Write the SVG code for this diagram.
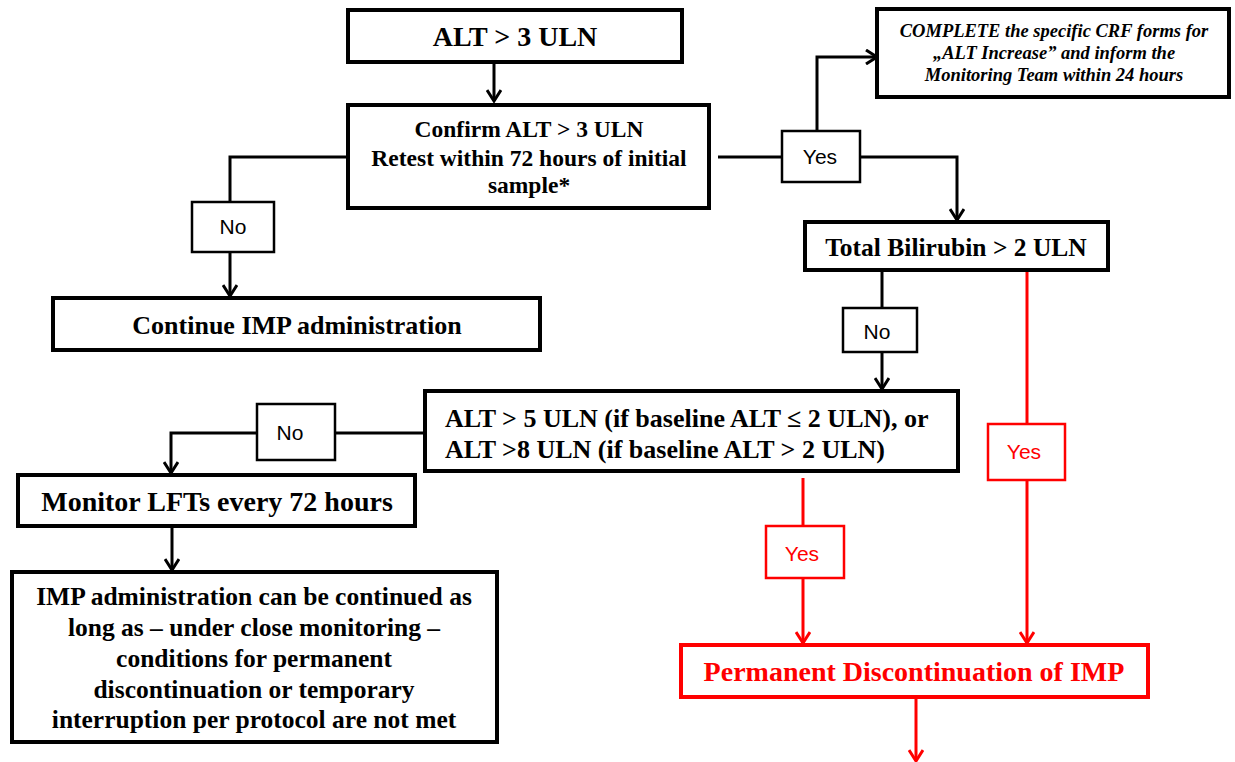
<svg xmlns="http://www.w3.org/2000/svg" width="1235" height="762" viewBox="0 0 1235 762">
  <defs>
    <style>
      .box { fill: #fff; stroke: #000; stroke-width: 4; }
      .rbox { fill: #fff; stroke: #f00; stroke-width: 4; }
      .lbl { fill: #fff; stroke: #000; stroke-width: 2.5; }
      .rlbl { fill: #fff; stroke: #f00; stroke-width: 2.5; }
      .t { font-family: "Liberation Serif", "Times New Roman", serif; font-weight: bold; fill: #000; text-anchor: middle; }
      .tl { text-anchor: start; }
      .red { fill: #f00; }
      .ti { font-family: "Liberation Serif", "Times New Roman", serif; font-weight: bold; font-style: italic; fill: #000; text-anchor: middle; font-size: 18.5px; }
      .s { font-family: "Liberation Sans", Arial, sans-serif; font-size: 21px; fill: #000; text-anchor: middle; }
      .rs { font-family: "Liberation Sans", Arial, sans-serif; font-size: 21px; fill: #f00; text-anchor: middle; }
      .ln { fill: none; stroke: #000; stroke-width: 3; }
      .rln { fill: none; stroke: #f00; stroke-width: 3; }
    </style>
    <!-- open chevron arrowheads, drawn pointing along +x -->
    <marker id="ah" viewBox="0 0 16 16" refX="14" refY="8" markerWidth="16" markerHeight="16" markerUnits="userSpaceOnUse" orient="auto">
      <path d="M3,1 L14,8 L3,15" fill="none" stroke="#000" stroke-width="3"/>
    </marker>
    <marker id="rah" viewBox="0 0 16 16" refX="14" refY="8" markerWidth="16" markerHeight="16" markerUnits="userSpaceOnUse" orient="auto">
      <path d="M3,1 L14,8 L3,15" fill="none" stroke="#f00" stroke-width="3"/>
    </marker>
  </defs>

  <!-- connectors -->
  <g id="connectors">
    <path class="ln" d="M494,64 V101" marker-end="url(#ah)"/>
    <path class="ln" d="M348,157 H230 V202"/>
    <path class="ln" d="M230,252 V296" marker-end="url(#ah)"/>
    <path class="ln" d="M718,157 H782"/>
    <path class="ln" d="M817,130 V57 H877" marker-end="url(#ah)"/>
    <path class="ln" d="M860,157 H957 V220" marker-end="url(#ah)"/>
    <path class="ln" d="M882,270 V308"/>
    <path class="ln" d="M882,352 V389" marker-end="url(#ah)"/>
    <path class="ln" d="M425,433 H335"/>
    <path class="ln" d="M257,433 H171 V473" marker-end="url(#ah)"/>
    <path class="ln" d="M172,526 V570" marker-end="url(#ah)"/>
    <path class="rln" d="M1027,270 V424"/>
    <path class="rln" d="M1027,480 V643" marker-end="url(#rah)"/>
    <path class="rln" d="M803,478 V526"/>
    <path class="rln" d="M803,578 V643" marker-end="url(#rah)"/>
    <path class="rln" d="M916,698 V761" marker-end="url(#rah)"/>
  </g>

  <g id="alt3">
    <rect class="box" x="348" y="10" width="334" height="52"/>
    <text class="t" x="515" y="46" font-size="28">ALT &gt; 3 ULN</text>
  </g>

  <g id="confirm">
    <rect class="box" x="348" y="105" width="361" height="103"/>
    <text class="t" x="529" y="137" font-size="23.5">Confirm ALT &gt; 3 ULN</text>
    <text class="t" x="529" y="166" font-size="23.5">Retest within 72 hours of initial</text>
    <text class="t" x="529" y="193" font-size="23.5">sample*</text>
  </g>

  <g id="no1">
    <rect class="lbl" x="192" y="202" width="82" height="50"/>
    <text class="s" x="233" y="234">No</text>
  </g>

  <g id="continue">
    <rect class="box" x="53" y="298" width="487" height="52"/>
    <text class="t" x="297" y="334" font-size="26">Continue IMP administration</text>
  </g>

  <g id="yes1">
    <rect class="lbl" x="782" y="131" width="78" height="51"/>
    <text class="s" x="820" y="164">Yes</text>
  </g>

  <g id="crf">
    <rect class="box" x="877" y="9" width="352" height="88"/>
    <text class="ti" x="1054" y="37">COMPLETE the specific CRF forms for</text>
    <text class="ti" x="1054" y="59">„ALT Increase” and inform the</text>
    <text class="ti" x="1054" y="81">Monitoring Team within 24 hours</text>
  </g>

  <g id="bilirubin">
    <rect class="box" x="805" y="222" width="303" height="48"/>
    <text class="t" x="956" y="256" font-size="25.5">Total Bilirubin &gt; 2 ULN</text>
  </g>

  <g id="no2">
    <rect class="lbl" x="843" y="308" width="74" height="44"/>
    <text class="s" x="877" y="339">No</text>
  </g>

  <g id="alt5">
    <rect class="box" x="425" y="391" width="533" height="80"/>
    <text class="t tl" x="445" y="427" font-size="26">ALT &gt; 5 ULN (if baseline ALT ≤ 2 ULN), or</text>
    <text class="t tl" x="445" y="458" font-size="26">ALT &gt;8 ULN (if baseline ALT &gt; 2 ULN)</text>
  </g>

  <g id="no3">
    <rect class="lbl" x="257" y="404" width="78" height="56"/>
    <text class="s" x="290" y="440">No</text>
  </g>

  <g id="monitor">
    <rect class="box" x="18" y="475" width="397" height="51"/>
    <text class="t" x="217" y="511" font-size="28">Monitor LFTs every 72 hours</text>
  </g>

  <g id="continued">
    <rect class="box" x="12" y="572" width="485" height="170"/>
    <text class="t" x="254" y="605" font-size="25.5">IMP administration can be continued as</text>
    <text class="t" x="254" y="636" font-size="25.5">long as – under close monitoring –</text>
    <text class="t" x="254" y="667" font-size="25.5">conditions for permanent</text>
    <text class="t" x="254" y="698" font-size="25.5">discontinuation or temporary</text>
    <text class="t" x="254" y="728" font-size="25.5">interruption per protocol are not met</text>
  </g>

  <g id="yes2">
    <rect class="rlbl" x="988" y="424" width="77" height="56"/>
    <text class="rs" x="1024" y="459">Yes</text>
  </g>

  <g id="yes3">
    <rect class="rlbl" x="766" y="526" width="78" height="52"/>
    <text class="rs" x="802" y="561">Yes</text>
  </g>

  <g id="permanent">
    <rect class="rbox" x="681" y="645" width="467" height="52"/>
    <text class="t red" x="914" y="681" font-size="28">Permanent Discontinuation of IMP</text>
  </g>
</svg>
